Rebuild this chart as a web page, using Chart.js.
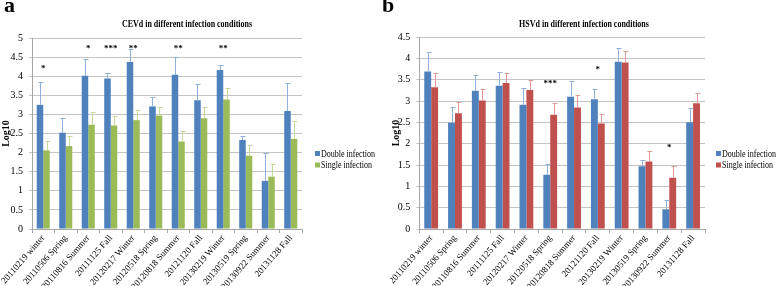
<!DOCTYPE html>
<html>
<head>
<meta charset="utf-8">
<script src="https://cdn.jsdelivr.net/npm/chart.js@4.4.1/dist/chart.umd.min.js"></script>
<style>
  body { margin: 0; background: #fff; width: 778px; height: 286px; position: relative; overflow: hidden; }
  .panel { position: absolute; top: 0; height: 286px; }
  .tag { position: absolute; top: -6px; font: bold 22px "Liberation Serif", serif; line-height: 1; }
</style>
</head>
<body>
<div class="panel" style="left:0;width:390px"><canvas id="cevdChart" width="390" height="286"></canvas></div>
<div class="panel" style="left:390px;width:388px"><canvas id="hsvdChart" width="388" height="286"></canvas></div>
<div class="tag" style="left:4px">a</div>
<div class="tag" style="left:382px">b</div>
<script>
const categories = ['20110219 winter', '20110506 Spring', '20110816 Summer', '20111125 Fall',
  '20120217 Winter', '20120518 Spring', '20120818 Summer', '20121120 Fall',
  '20130219 Winter', '20130519 Spring', '20130922 Summer', '20131128 Fall'];
const seriesNames = ['Double infection', 'Single infection'];

// panel a: CEVd
const cevdDouble = [3.25, 2.52, 4.01, 3.94, 4.37, 3.21, 4.04, 3.37, 4.16, 2.33, 1.26, 3.09];
const cevdDoubleErr = [3.85, 2.90, 4.45, 4.08, 4.72, 3.45, 4.50, 3.80, 4.29, 2.43, 1.98, 3.82];
const cevdSingle = [2.06, 2.17, 2.73, 2.71, 2.85, 2.97, 2.29, 2.90, 3.39, 1.92, 1.37, 2.36];
const cevdSingleErr = [2.30, 2.44, 3.06, 2.96, 3.12, 3.20, 2.56, 3.19, 3.68, 2.20, 1.69, 2.82];
const cevdStars = ['*', '', '*', '***', '**', '', '**', '', '**', '', '', ''];
const cevdStarLevel = [4.25, 0, 4.78, 4.78, 4.78, 0, 4.78, 0, 4.78, 0, 0, 0];

// panel b: HSVd
const hsvdDouble = [3.69, 2.49, 3.24, 3.36, 2.91, 1.27, 3.10, 3.04, 3.92, 1.47, 0.46, 2.50];
const hsvdDoubleErr = [4.14, 2.87, 3.60, 3.67, 3.31, 1.52, 3.48, 3.27, 4.25, 1.62, 0.69, 2.84];
const hsvdSingle = [3.32, 2.71, 3.01, 3.42, 3.26, 2.68, 2.85, 2.47, 3.90, 1.58, 1.20, 2.95];
const hsvdSingleErr = [3.65, 2.98, 3.29, 3.65, 3.50, 2.96, 3.13, 2.70, 4.17, 1.82, 1.47, 3.19];
const hsvdStars = ['', '', '', '', '', '***', '', '*', '', '', '*', ''];
const hsvdStarLevel = [0, 0, 0, 0, 0, 3.45, 0, 3.78, 0, 0, 1.95, 0];

const serif = '"Liberation Serif", "Times New Roman", serif';

// the source figure is squeezed sideways, so titles/legend are drawn condensed
function condensedText(ctx, text, x, y, sx) {
  ctx.save();
  ctx.translate(x, y);
  ctx.scale(sx, 1);
  ctx.fillText(text, 0, 0);
  ctx.restore();
}

const errorBars = {
  id: 'errorBars',
  afterDatasetsDraw(chart) {
    const ctx = chart.ctx, y = chart.scales.y;
    chart.data.datasets.forEach((ds, i) => {
      const meta = chart.getDatasetMeta(i);
      ctx.save();
      ctx.strokeStyle = ds.errColor;
      ctx.lineWidth = 1;
      meta.data.forEach((bar, j) => {
        const top = Math.round(y.getPixelForValue(ds.errTop[j])) + 0.5;
        const x = Math.round(bar.x) + 0.5;
        ctx.beginPath();
        ctx.moveTo(x, bar.y);
        ctx.lineTo(x, top);
        ctx.moveTo(x - 2, top);
        ctx.lineTo(x + 3, top);
        ctx.stroke();
      });
      ctx.restore();
    });
  }
};

const starMarks = {
  id: 'starMarks',
  afterDatasetsDraw(chart, args, opts) {
    const ctx = chart.ctx;
    ctx.save();
    ctx.fillStyle = '#000';
    ctx.font = 'bold 9px ' + serif;
    ctx.textAlign = 'center';
    ctx.textBaseline = 'middle';
    opts.marks.forEach((m, j) => {
      if (!m) return;
      const x = chart.scales.x.getPixelForValue(j);
      const yy = chart.scales.y.getPixelForValue(opts.levels[j]);
      ctx.fillText(m, x, yy + 2);
    });
    ctx.restore();
  }
};

const headTitle = {
  id: 'headTitle',
  afterDraw(chart, args, opts) {
    const ctx = chart.ctx;
    ctx.save();
    ctx.fillStyle = '#000';
    ctx.font = 'bold 9.5px ' + serif;
    ctx.textAlign = 'center';
    ctx.textBaseline = 'middle';
    condensedText(ctx, opts.text, opts.x, opts.y, 0.84);
    ctx.restore();
  }
};

const sideLegend = {
  id: 'sideLegend',
  afterDraw(chart, args, opts) {
    const ctx = chart.ctx;
    ctx.save();
    ctx.font = '10px ' + serif;
    ctx.textBaseline = 'middle';
    chart.data.datasets.forEach((ds, i) => {
      const yy = opts.y + i * opts.gap;
      ctx.fillStyle = ds.backgroundColor;
      ctx.fillRect(opts.x, yy - 3, 5, 5);
      ctx.fillStyle = '#000';
      condensedText(ctx, ds.label, opts.x + 6, yy, 0.8);
    });
    ctx.restore();
  }
};

function makeChart(id, title, ymax, double, doubleErr, single, singleErr, singleColor, singleErrColor, stars, levels, titleX, legendX, padRight, padTop, axisW) {
  return new Chart(document.getElementById(id), {
    type: 'bar',
    data: {
      labels: categories,
      datasets: [
        { label: seriesNames[0], data: double, errTop: doubleErr, backgroundColor: '#4F81BD', errColor: '#8FB1DC' },
        { label: seriesNames[1], data: single, errTop: singleErr, backgroundColor: singleColor, errColor: singleErrColor }
      ]
    },
    options: {
      responsive: false,
      animation: false,
      datasets: { bar: { barPercentage: 1, categoryPercentage: 0.58 } },
      layout: { padding: { left: 0, right: padRight, top: padTop, bottom: 0 } },
      plugins: {
        legend: { display: false },
        tooltip: { enabled: false },
        title: { display: false },
        headTitle: { text: title, x: titleX, y: 25 },
        starMarks: { marks: stars, levels: levels },
        sideLegend: { x: legendX, y: 154, gap: 11.5 }
      },
      scales: {
        x: {
          grid: { display: true, drawOnChartArea: false, drawTicks: true, tickLength: 4, color: '#A6A6A6' },
          border: { color: '#A6A6A6' },
          ticks: { color: '#000', font: { family: serif, size: 9 }, minRotation: 49, maxRotation: 49, padding: 0 },
          afterFit(s) { s.height = 57; }
        },
        y: {
          min: 0, max: ymax,
          ticks: { stepSize: 0.5, color: '#000', font: { family: serif, size: 10 }, padding: 6, callback: v => String(v) },
          grid: { color: '#C4C4C4', tickLength: 3 },
          border: { color: '#A6A6A6' },
          title: { display: true, text: 'Log10', color: '#000', font: { family: serif, size: 10, weight: 'bold' }, padding: 0 },
          afterFit(s) { s.width = axisW; }
        }
      }
    },
    plugins: [errorBars, starMarks, headTitle, sideLegend]
  });
}

makeChart('cevdChart', 'CEVd in different infection conditions', 5,
  cevdDouble, cevdDoubleErr, cevdSingle, cevdSingleErr, '#9BBB59', '#C5D99A',
  cevdStars, cevdStarLevel, 187, 315, 88, 38, 32);
makeChart('hsvdChart', 'HSVd in different infection conditions', 4.5,
  hsvdDouble, hsvdDoubleErr, hsvdSingle, hsvdSingleErr, '#C0504D', '#E29A98',
  hsvdStars, hsvdStarLevel, 194, 326, 73, 37, 29);
</script>
</body>
</html>
